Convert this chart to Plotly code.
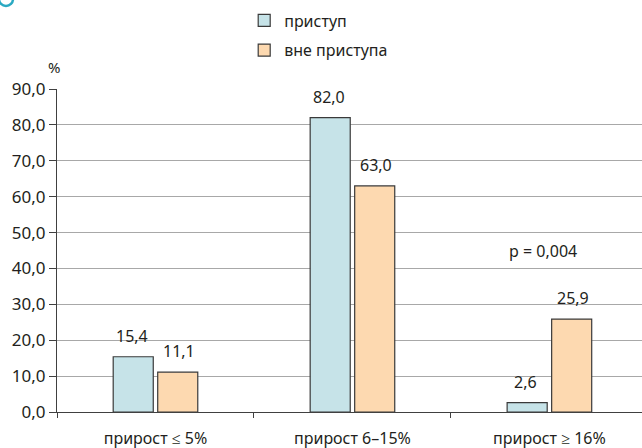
import plotly.graph_objects as go

categories = ["прирост ≤ 5%", "прирост 6–15%", "прирост ≥ 16%"]
attack = [15.4, 82.0, 2.6]
no_attack = [11.1, 63.0, 25.9]
series_names = ["приступ", "вне приступа"]
p_text = "p = 0,004"
y_ticks = [0, 10, 20, 30, 40, 50, 60, 70, 80, 90]

FONT = "Noto Sans"
TXT = "#231f20"
BLUE = "#c6e3e8"
ORANGE = "#fdd9b0"
EDGE = "#3a3a3a"

fig = go.Figure()
fig.add_trace(go.Bar(x=categories, y=attack, name=series_names[0], legendgroup="a",
                     marker=dict(color=BLUE, line=dict(color=EDGE, width=1.2))))
fig.add_trace(go.Bar(x=categories, y=no_attack, name=series_names[1], legendgroup="b",
                     marker=dict(color=ORANGE, line=dict(color=EDGE, width=1.2))))

def fmt(v):
    return f"{v:.1f}".replace(".", ",")

annotations = []
for cat, a, b in zip(categories, attack, no_attack):
    for val, sh in ((a, -23.5), (b, 23.5)):
        annotations.append(dict(x=cat, y=val, text=fmt(val), showarrow=False,
                                xshift=sh, yshift=8, yanchor="bottom",
                                font=dict(family=FONT, size=16, color=TXT)))
annotations.append(dict(x=categories[2], y=45, text=p_text, showarrow=False,
                        xshift=-6, yanchor="middle",
                        font=dict(family=FONT, size=16, color=TXT)))
annotations.append(dict(xref="paper", yref="paper", x=-0.005, y=(412 - 67) / 323, text="%",
                        showarrow=False, xanchor="center", yanchor="middle",
                        font=dict(family=FONT, size=15, color=TXT)))

fig.update_layout(
    width=642, height=448,
    margin=dict(l=57, r=0, t=89, b=36),
    paper_bgcolor="white", plot_bgcolor="white",
    separators=", ",
    barmode="group", bargap=0.548, bargroupgap=0.1,
    font=dict(family=FONT, size=16, color=TXT),
    legend=dict(x=0.32, y=1.265, xanchor="left", yanchor="top",
                font=dict(family=FONT, size=16, color=TXT),
                tracegroupgap=6, traceorder="grouped", bgcolor="rgba(0,0,0,0)"),
    annotations=annotations,
    shapes=[dict(type="circle", xref="paper", yref="paper",
                 x0=(-1 - 57) / 585, x1=(13 - 57) / 585,
                 y0=(412 - 6) / 323, y1=(412 + 8) / 323,
                 line=dict(color="#2aa9c2", width=2.5))],
)
fig.update_xaxes(range=[-0.5, 2.47], showline=True, linecolor="#404040", linewidth=1.2,
                 ticks="outside", tickson="boundaries", ticklen=5, tickcolor="#404040",
                 ticklabelstandoff=12, showgrid=False,
                 tickfont=dict(family=FONT, size=16, color=TXT))
fig.update_yaxes(range=[0, 90], tickvals=y_ticks, tickformat=".1f",
                 showline=True, linecolor="#404040", linewidth=1.2,
                 ticks="outside", ticklen=7, tickcolor="#404040",
                 showgrid=True, gridcolor="#a8a8a8", gridwidth=1,
                 zeroline=False, tickfont=dict(family=FONT, size=17, color=TXT))

fig.write_html("out.html", config={"displayModeBar": False},
               post_script="document.body.style.margin='0';")
